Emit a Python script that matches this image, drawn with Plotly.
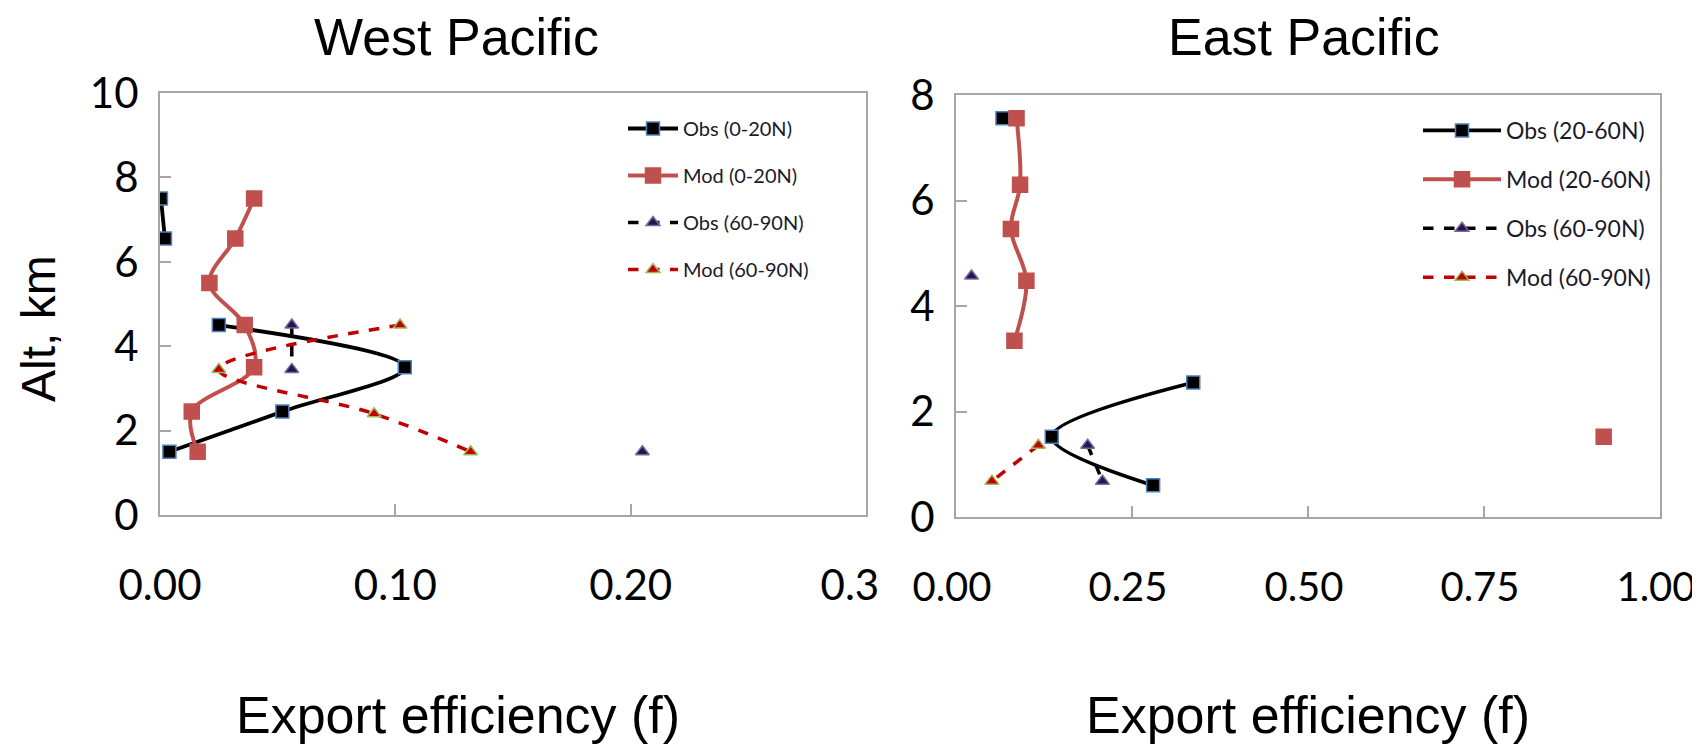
import plotly.graph_objects as go

# ---------------- data ----------------
# West Pacific
wp_alt = [7.5, 6.55, 5.5, 4.5, 3.5, 2.45, 1.5]
wp_obs_0_20 = [0.0004, 0.0021, None, 0.025, 0.104, 0.052, 0.004]
wp_mod_0_20 = [0.040, 0.032, 0.021, 0.036, 0.040, 0.0135, 0.016]
wp_alt_hi = [4.5, 3.45, 2.4, 1.5]
wp_obs_60_90 = [0.056, 0.056, None, 0.205]
wp_mod_60_90 = [0.102, 0.025, 0.091, 0.132]

# East Pacific
ep_alt = [7.56, 6.3, 5.46, 4.48, 3.34, 2.55, 1.52, 0.6]
ep_obs_20_60 = [0.066, None, None, None, None, 0.337, 0.136, 0.280]
ep_mod_20_60 = [0.086, 0.091, 0.078, 0.100, 0.083, None, 0.92, None]
ep_alt_hi = [4.57, 2.5, 1.36, 0.68]
ep_obs_60_90 = [0.022, None, 0.187, 0.208]
ep_mod_60_90 = [None, None, 0.117, 0.051]

wp_xticks = [0, 0.1, 0.2, 0.3]
wp_xtext = ["0.00", "0.10", "0.20", "0.3\u00a0\u00a0\u00a0"]
ep_xticks = [0, 0.25, 0.5, 0.75, 1.0]
ep_xtext = ["0.00", "0.25", "0.50", "0.75", "1.00"]

# ---------------- styles ----------------
BLACK = "#000000"
MOD = "#C0504D"
RED = "#C00000"
BLUE = "#4F81BD"
PURPLE = "#8064A2"
GREEN = "#9BBB59"
NAVY = "#1F1A4A"
GRID = "#A6A6A6"
TICKFONT = dict(family="Lato", size=42, color="#000000")

W, H = 1700, 751


def px_x(v):
    return v / W


def px_y(v):
    return 1 - v / H


fig = go.Figure()


def add(x, y, name, color, dash, symbol, msize, mfill, mline, lw, xa, ya, legend, group):
    fig.add_trace(go.Scatter(
        x=x, y=y, name=name, mode="lines+markers",
        line=dict(color=color, width=lw, dash=dash, shape="spline", smoothing=1),
        marker=dict(symbol=symbol, size=msize, color=mfill, line=dict(color=mline, width=1.5)),
        xaxis=xa, yaxis=ya, legend=legend, legendgroup=group, connectgaps=False,
    ))


add(wp_obs_0_20, wp_alt, "Obs (0-20N)", BLACK, "solid", "square", 13, BLACK, BLUE, 3.8, "x", "y", "legend", "a1")
add(wp_mod_0_20, wp_alt, "Mod (0-20N)", MOD, "solid", "square", 15, MOD, MOD, 4, "x", "y", "legend", "a2")
add(wp_obs_60_90, wp_alt_hi, "Obs (60-90N)", BLACK, "dash", "triangle-up", 12, NAVY, PURPLE, 3.5, "x", "y", "legend", "a3")
add(wp_mod_60_90, wp_alt_hi, "Mod (60-90N)", RED, "dash", "triangle-up", 12, RED, GREEN, 3.5, "x", "y", "legend", "a4")

add(ep_obs_20_60, ep_alt, "Obs (20-60N)", BLACK, "solid", "square", 13, BLACK, BLUE, 3.8, "x2", "y2", "legend2", "b1")
add(ep_mod_20_60, ep_alt, "Mod (20-60N)", MOD, "solid", "square", 15, MOD, MOD, 4, "x2", "y2", "legend2", "b2")
add(ep_obs_60_90, ep_alt_hi, "Obs (60-90N)", BLACK, "dash", "triangle-up", 12, NAVY, PURPLE, 3.5, "x2", "y2", "legend2", "b3")
add(ep_mod_60_90, ep_alt_hi, "Mod (60-90N)", RED, "dash", "triangle-up", 12, RED, GREEN, 3.5, "x2", "y2", "legend2", "b4")

axis_common = dict(showline=True, mirror=True, linecolor=GRID, linewidth=2,
                   ticks="inside", ticklen=11, tickwidth=1.5, tickcolor=GRID,
                   showgrid=False, zeroline=False, automargin=False,
                   ticklabeloverflow="allow")

fig.update_layout(
    width=W, height=H, margin=dict(l=0, r=0, t=0, b=0, autoexpand=False),
    paper_bgcolor="white", plot_bgcolor="white",
    xaxis=dict(domain=[px_x(152), px_x(858)], range=[0, 0.3], tickvals=wp_xticks, ticktext=wp_xtext,
               anchor="y", ticklabelstandoff=33, tickfont=TICKFONT, **axis_common),
    yaxis=dict(domain=[px_y(507), px_y(85)], range=[0, 10], tickvals=[0, 2, 4, 6, 8, 10],
               anchor="x", ticklabelstandoff=11, tickfont=TICKFONT, **axis_common),
    xaxis2=dict(domain=[px_x(948), px_x(1652)], range=[0, 1.0], tickvals=ep_xticks, ticktext=ep_xtext,
                anchor="y2", ticklabelstandoff=34, ticklabelshift=-4,
                tickfont=dict(family="Lato", size=40, color="#000000"), **axis_common),
    yaxis2=dict(domain=[px_y(509), px_y(87)], range=[0, 8], tickvals=[0, 2, 4, 6, 8],
                anchor="x2", ticklabelstandoff=11, tickfont=TICKFONT, **axis_common),
    legend=dict(x=px_x(615), y=px_y(101), xanchor="left", yanchor="top",
                font=dict(family="Lato", size=20, color="#1a1a2a"),
                bgcolor="rgba(0,0,0,0)", itemwidth=50, tracegroupgap=18),
    legend2=dict(x=px_x(1410), y=px_y(101), xanchor="left", yanchor="top",
                 font=dict(family="Lato", size=23, color="#1a1a2a"),
                 bgcolor="rgba(0,0,0,0)", itemwidth=78, tracegroupgap=16),
    showlegend=True,
)

TITLEFONT = dict(family="Liberation Sans, Arial", size=52, color="#000000")
fig.add_annotation(text="West Pacific", x=px_x(449), y=px_y(29), xref="paper", yref="paper",
                   showarrow=False, font=TITLEFONT, xanchor="center", yanchor="middle")
fig.add_annotation(text="East Pacific", x=px_x(1296), y=px_y(29), xref="paper", yref="paper",
                   showarrow=False, font=TITLEFONT, xanchor="center", yanchor="middle")
fig.add_annotation(text="Export efficiency (f)", x=px_x(450), y=px_y(707), xref="paper", yref="paper",
                   showarrow=False, font=TITLEFONT, xanchor="center", yanchor="middle")
fig.add_annotation(text="Export efficiency (f)", x=px_x(1300), y=px_y(707), xref="paper", yref="paper",
                   showarrow=False, font=TITLEFONT, xanchor="center", yanchor="middle")
fig.add_annotation(text="Alt, km", x=px_x(30), y=px_y(321), xref="paper", yref="paper", textangle=-90,
                   showarrow=False, font=dict(family="Liberation Sans, Arial", size=48, color="#000000"),
                   xanchor="center", yanchor="middle")

fig.write_html("out.html")
